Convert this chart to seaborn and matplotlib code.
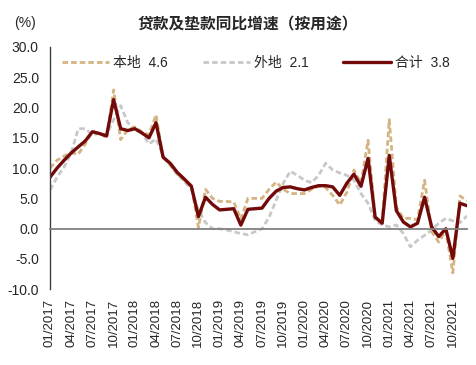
import pandas as pd
import seaborn as sns
import matplotlib.pyplot as plt

# monthly data, 01/2017 - 12/2021
months = pd.date_range("2017-01-01", "2021-12-01", freq="MS")
month_labels = [d.strftime("%m/%Y") for d in months]

local = [10.0, 11.3, 12.0, 12.5, 12.3, 14.0, 16.0, 15.8, 15.0, 22.9, 14.7, 16.3,
         16.8, 16.0, 15.5, 18.8, 11.8, 10.5, 9.0, 8.0, 7.2, 0.2, 6.5, 5.0,
         4.5, 4.5, 4.4, 1.6, 5.0, 5.0, 5.0, 6.5, 7.7, 6.5, 5.8, 5.8,
         5.8, 6.5, 7.0, 6.8, 5.5, 3.9, 6.0, 9.7, 7.5, 14.6, 2.0, 1.0,
         18.0, 3.6, 1.7, 1.7, 1.5, 8.0, -0.5, -2.2, -0.3, -7.3, 5.4, 4.6]
nonlocal_ = [6.4, 8.5, 10.2, 12.5, 16.5, 16.5, 15.5, 15.7, 15.5, 18.0, 20.3, 17.5,
             16.5, 15.8, 14.0, 14.8, 12.0, 10.5, 9.0, 7.8, 6.5, 3.0, 1.0, 0.0,
             0.0, -0.2, -0.5, -0.8, -1.0, -0.5, 0.0, 1.9, 4.7, 7.5, 9.5, 8.8,
             8.0, 7.6, 8.8, 10.8, 9.7, 9.2, 8.8, 8.0, 5.8, 4.2, 1.4, 0.6,
             0.3, 0.6, -0.8, -3.0, -1.9, -1.1, -0.2, 0.9, 1.7, 1.3, 1.0, 2.1]
total = [8.5, 10.0, 11.3, 12.5, 13.5, 14.5, 16.0, 15.7, 15.3, 21.3, 16.5, 16.2,
         16.5, 15.8, 15.0, 17.5, 11.8, 10.8, 9.3, 8.2, 7.0, 2.0, 5.2, 4.0,
         3.1, 3.2, 3.3, 0.6, 3.2, 3.3, 3.4, 5.0, 6.2, 6.8, 6.9, 6.6,
         6.4, 6.8, 7.1, 7.1, 6.9, 5.5, 7.5, 9.0, 7.0, 11.6, 1.9, 0.9,
         12.1, 3.0, 1.1, 0.3, 0.9, 5.2, 0.3, -1.3, 0.0, -4.9, 4.2, 3.8]

df = pd.DataFrame({"idx": range(len(months)), "本地": local,
                   "外地": nonlocal_, "合计": total})

sns.set_style("white")
plt.rcParams["font.family"] = ["Liberation Sans", "Noto Sans CJK SC", "DejaVu Sans"]

fig = plt.figure(figsize=(4.77, 3.65), dpi=100)
ax = fig.add_axes([50 / 477, (365 - 289.3) / 365, 417 / 477, 242.4 / 365])

sns.lineplot(data=df, x="idx", y="外地", ax=ax, color="#C8C8C8", linewidth=2.0,
             linestyle=(0, (2.0, 1.1)), label="外地  2.1")
sns.lineplot(data=df, x="idx", y="本地", ax=ax, color="#D4B483", linewidth=2.0,
             linestyle=(0, (2.0, 1.1)), label="本地  4.6")
sns.lineplot(data=df, x="idx", y="合计", ax=ax, color="#730A0A", linewidth=2.4,
             label="合计  3.8", solid_joinstyle="round")

ax.set_xlim(0, len(months) - 1)
ax.set_ylim(-10, 30)
ax.set_yticks(range(-10, 31, 5))
ax.set_yticklabels([f"{v:.1f}" for v in range(-10, 31, 5)], fontsize=10)
ax.set_xlabel("")
ax.set_ylabel("")

# x axis line drawn at zero, labels at the bottom
for s in ["top", "right"]:
    ax.spines[s].set_visible(False)
ax.spines["bottom"].set_position(("data", 0))
ax.spines["bottom"].set_color("#808080")
ax.spines["bottom"].set_linewidth(1.3)
ax.spines["left"].set_color("#404040")
ax.spines["left"].set_linewidth(1.0)
ax.set_xticks(range(0, len(months), 3))
ax.tick_params(axis="x", direction="out", length=3, width=1, color="#808080",
               labelbottom=False)
ax.tick_params(axis="y", direction="out", length=3, width=1, color="#404040", pad=5)

sec = ax.secondary_xaxis("bottom")
sec.set_xticks(range(0, len(months), 3))
sec.set_xticklabels(month_labels[::3], rotation=90, fontsize=9.5)
sec.tick_params(length=0, pad=7)
sec.spines["bottom"].set_visible(False)

handles, labels = ax.get_legend_handles_labels()
order = [1, 0, 2]
ax.legend([handles[i] for i in order], [labels[i] for i in order],
          loc="center left", bbox_to_anchor=(0.028, 0.934), ncol=3, frameon=False,
          fontsize=10, handlelength=3.4, handletextpad=0.3, columnspacing=2.5,
          borderpad=0, borderaxespad=0)

fig.text(248 / 477, 1 - 24 / 365, "贷款及垫款同比增速（按用途）", ha="center", va="center",
         fontsize=11.3, fontweight="bold", family=["Noto Sans CJK SC"])
fig.text(25 / 477, 1 - 23 / 365, "(%)", ha="center", va="center", fontsize=10)

fig.savefig("out.png", dpi=100, facecolor="white")
